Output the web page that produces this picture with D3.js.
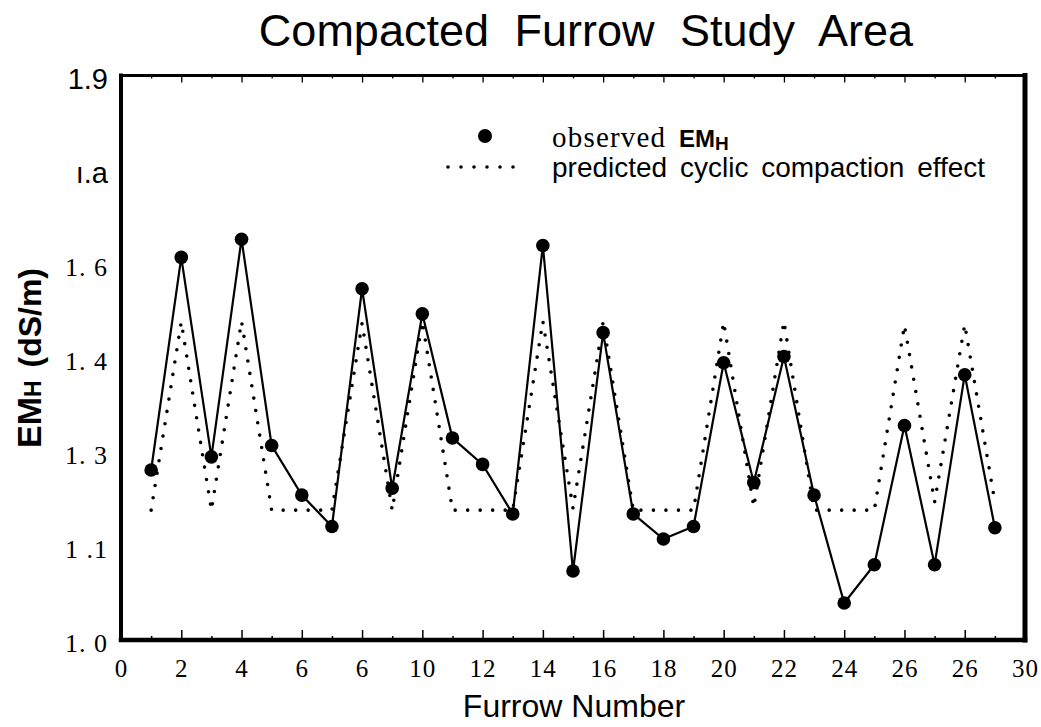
<!DOCTYPE html>
<html>
<head>
<meta charset="utf-8">
<script src="https://cdn.jsdelivr.net/npm/d3@7"></script>
<style>
  html, body { margin: 0; padding: 0; background: #fff; }
  svg { display: block; }
</style>
</head>
<body>
<svg id="chart" width="1041" height="727"></svg>
<script>
// Furrow numbers along the field
const furrows = [1, 2, 3, 4, 5, 6, 7, 8, 9, 10, 11, 12, 13, 14, 15, 16, 17, 18, 19, 20, 21, 22, 23, 24, 25, 26, 27, 28, 29];
// Observed horizontal EM readings (dS/m)
const observed = [1.271, 1.610, 1.292, 1.639, 1.310, 1.231, 1.181, 1.560, 1.242, 1.520,
                  1.322, 1.280, 1.201, 1.629, 1.110, 1.490, 1.201, 1.161, 1.181, 1.442,
                  1.251, 1.452, 1.231, 1.059, 1.120, 1.342, 1.120, 1.423, 1.179];
// Predicted cyclic compaction effect (dS/m)
const predicted = [1.207, 1.507, 1.207, 1.508, 1.207, 1.207, 1.207, 1.505, 1.207, 1.508,
                   1.207, 1.207, 1.207, 1.508, 1.210, 1.507, 1.207, 1.207, 1.207, 1.507,
                   1.212, 1.508, 1.207, 1.207, 1.207, 1.502, 1.220, 1.503, 1.220];

// Axis ticks and their printed labels
const xMajorTicks = [0, 2, 4, 6, 8, 10, 12, 14, 16, 18, 20, 22, 24, 26, 28, 30];
const xTickLabels = ["0", "2", "4", "6", "6", "10", "12", "14", "16", "18", "20", "22", "24", "26", "26", "30"];
const xMinorTicks = [1, 3, 5, 7, 9, 11, 13, 15, 17, 19, 21, 23, 25, 27, 29];
const yTicks = [1.0, 1.15, 1.3, 1.45, 1.6, 1.75, 1.9];
const yTickLabels = ["1. 0", "1 .1", "1. 3", "1. 4", "1. 6", "ı.a", "1.9"];

const SERIF = "'Liberation Serif', 'DejaVu Serif', serif";
const SANS = "'Liberation Sans', Arial, sans-serif";

const svg = d3.select("#chart");
const plot = { left: 121, right: 1025, top: 75.5, bottom: 640 };

const x = d3.scaleLinear().domain([0, 30]).range([plot.left, plot.right]);
const y = d3.scaleLinear().domain([1.0, 1.9]).range([plot.bottom, plot.top]);

// Title
svg.append("text")
  .attr("x", 586).attr("y", 46)
  .attr("text-anchor", "middle")
  .style("font-family", SANS).style("font-size", "45px")
  .style("word-spacing", "13px")
  .text("Compacted Furrow Study Area");

// Bottom axis: major ticks pointing into the plot, labels below
const xAxis = d3.axisBottom(x)
  .tickValues(xMajorTicks)
  .tickSize(-10)
  .tickPadding(19)
  .tickFormat((d, i) => xTickLabels[i]);
const gx = svg.append("g").attr("transform", `translate(0,${plot.bottom})`).call(xAxis);
gx.select(".domain").remove();
gx.selectAll(".tick line").attr("stroke", "#000").attr("stroke-width", 1.5);
gx.selectAll(".tick text").style("font-family", SERIF).style("font-size", "25px")
  .style("letter-spacing", "1px").attr("fill", "#000");

const gxMinor = svg.append("g").attr("transform", `translate(0,${plot.bottom})`)
  .call(d3.axisBottom(x).tickValues(xMinorTicks).tickSize(-4).tickFormat(""));
gxMinor.select(".domain").remove();
gxMinor.selectAll(".tick line").attr("stroke", "#000").attr("stroke-width", 1.5);

// Top axis: ticks hanging down from the frame
const gt = svg.append("g").attr("transform", `translate(0,${plot.top})`)
  .call(d3.axisTop(x).tickValues(xMajorTicks).tickSize(-7).tickFormat(""));
gt.select(".domain").remove();
gt.selectAll(".tick line").attr("stroke", "#000").attr("stroke-width", 1.3);
const gtMinor = svg.append("g").attr("transform", `translate(0,${plot.top})`)
  .call(d3.axisTop(x).tickValues(xMinorTicks).tickSize(-3).tickFormat(""));
gtMinor.select(".domain").remove();
gtMinor.selectAll(".tick line").attr("stroke", "#000").attr("stroke-width", 1.3);

// Left axis labels (no tick marks)
const isSansLabel = d => d === 1.9 || d === 1.75;
const yAxis = d3.axisLeft(y)
  .tickValues(yTicks)
  .tickSize(0)
  .tickPadding(13)
  .tickFormat((d, i) => yTickLabels[i]);
const gy = svg.append("g").attr("transform", `translate(${plot.left},0)`).call(yAxis);
gy.select(".domain").remove();
gy.selectAll(".tick text")
  .attr("fill", "#000")
  .attr("dy", "0.45em")
  .style("font-family", d => isSansLabel(d) ? SANS : SERIF)
  .style("font-size", d => isSansLabel(d) ? "29px" : "26px")
  .style("letter-spacing", d => isSansLabel(d) ? "0px" : "1px");

// Frame
const frame = svg.append("g").attr("stroke", "#000").attr("fill", "none").attr("stroke-linecap", "square");
frame.append("line").attr("x1", plot.left).attr("x2", plot.right).attr("y1", plot.top).attr("y2", plot.top).attr("stroke-width", 3);
frame.append("line").attr("x1", plot.left).attr("x2", plot.right).attr("y1", plot.bottom).attr("y2", plot.bottom).attr("stroke-width", 4.5);
frame.append("line").attr("x1", plot.left).attr("x2", plot.left).attr("y1", plot.top).attr("y2", plot.bottom).attr("stroke-width", 4);
frame.append("line").attr("x1", plot.right).attr("x2", plot.right).attr("y1", plot.top).attr("y2", plot.bottom).attr("stroke-width", 5);

// Axis titles
svg.append("text")
  .attr("x", 574).attr("y", 717)
  .attr("text-anchor", "middle")
  .style("font-family", SANS).style("font-size", "32px")
  .text("Furrow Number");

const yTitle = svg.append("text")
  .attr("transform", "translate(41,358) rotate(-90)")
  .attr("text-anchor", "middle")
  .style("font-family", SANS).style("font-weight", "bold").style("font-size", "32px")
  .style("word-spacing", "4px");
yTitle.append("tspan").style("font-size", "34px").text("EM");
yTitle.append("tspan").style("font-size", "23px").text("H");
yTitle.append("tspan").text(" (dS/m)");

// Predicted cyclic compaction effect (dotted)
const rows = furrows.map((f, i) => ({ f, obs: observed[i], pred: predicted[i] }));

svg.append("path")
  .datum(rows)
  .attr("fill", "none")
  .attr("stroke", "#000")
  .attr("stroke-width", 3.6)
  .attr("stroke-linecap", "round")
  .attr("stroke-dasharray", "0,12.5")
  .attr("d", d3.line().x(d => x(d.f)).y(d => y(d.pred)));

// Observed EM_H: solid line with filled markers
svg.append("path")
  .datum(rows)
  .attr("fill", "none")
  .attr("stroke", "#000")
  .attr("stroke-width", 2.2)
  .attr("d", d3.line().x(d => x(d.f)).y(d => y(d.obs)));

svg.append("g").selectAll("circle")
  .data(rows)
  .join("circle")
  .attr("cx", d => x(d.f))
  .attr("cy", d => y(d.obs))
  .attr("r", 6.8)
  .attr("fill", "#000");

// Legend
const legend = svg.append("g");
legend.append("circle").attr("cx", 485).attr("cy", 136).attr("r", 7).attr("fill", "#000");
legend.append("line")
  .attr("x1", 448).attr("x2", 514).attr("y1", 167).attr("y2", 167)
  .attr("stroke", "#000").attr("stroke-width", 3.6)
  .attr("stroke-linecap", "round").attr("stroke-dasharray", "0,13");
const obsLabel = legend.append("text").attr("x", 552).attr("y", 147);
obsLabel.append("tspan").style("font-family", SERIF).style("font-size", "29px")
  .style("letter-spacing", "1.2px").text("observed");
obsLabel.append("tspan").attr("x", 679).style("font-family", SANS).style("font-weight", "bold")
  .style("font-size", "24px").text("EM");
obsLabel.append("tspan").attr("dy", 3).style("font-family", SANS).style("font-weight", "bold")
  .style("font-size", "19px").text("H");
legend.append("text").attr("x", 552).attr("y", 177)
  .style("font-family", SANS).style("font-size", "28px").style("word-spacing", "5px")
  .text("predicted cyclic compaction effect");
</script>
</body>
</html>
